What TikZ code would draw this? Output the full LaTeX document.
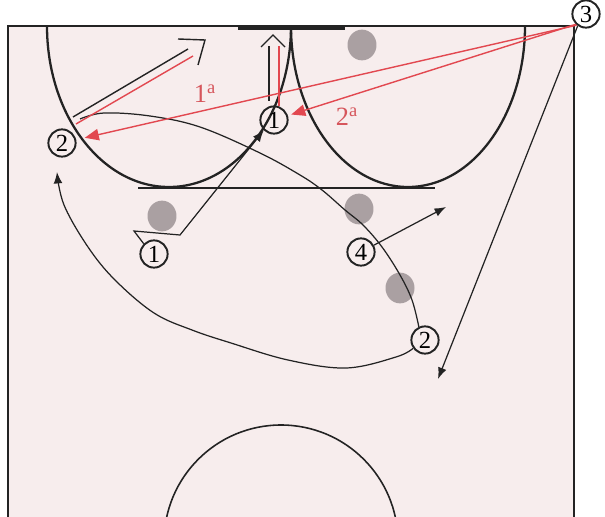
\documentclass[tikz,border=0pt]{standalone}
\usepackage{fontspec}
\setmainfont{Liberation Serif}
\usetikzlibrary{arrows.meta}
\usetikzlibrary{shapes.geometric}

\definecolor{courtbg}{RGB}{247,237,237}
\definecolor{courtline}{RGB}{35,35,35}
\definecolor{passred}{RGB}{226,72,80}
\definecolor{labelred}{RGB}{214,86,92}
\definecolor{defgrey}{RGB}{170,160,162}

\tikzset{
  player/.style={circle,draw=courtline,line width=1.1pt,minimum size=15.5pt,inner sep=0pt,font=\fontsize{14}{14}\selectfont},
  defender/.style={ellipse,fill=defgrey,minimum width=16.5pt,minimum height=17.5pt,inner sep=0pt},
  runline/.style={draw=courtline,line width=0.7pt},
  runtip/.style={-{Latex[length=6.5pt,width=5pt]}},
  passline/.style={draw=passred,line width=0.8pt,-{Triangle[length=8pt,width=6.5pt]}},
  passlabel/.style={text=labelred,font=\fontsize{15}{15}\selectfont},
  shotblack/.style={draw=courtline,line width=0.8pt},
  shotred/.style={draw=passred,line width=0.8pt},
  keyline/.style={draw=courtline,line width=1.3pt}
}

\begin{document}
\begin{tikzpicture}[x=0.02cm,y=-0.02cm]
\clip (0,0) rectangle (605,517);
\fill[white] (0,0) rectangle (605,517);
\fill[courtbg] (8,26) rectangle (574,530);
\draw[courtline,line width=1.1pt] (8,530) -- (8,26) -- (574,26) -- (574,530);
\draw[courtline,line width=2.4pt] (238,27.5) -- (345,27.5);
\draw[keyline] (47,26) arc[start angle=180,end angle=0,x radius=122,y radius=161];
\draw[keyline] (291,26) arc[start angle=180,end angle=0,x radius=117,y radius=161];
\draw[keyline] (138,188) -- (435,188);
\draw[courtline,line width=0.9pt] (281,542) circle[radius=117];

\node[defender] (d1) at (362,45) {};
\node[defender] (d2) at (162,216) {};
\node[defender] (d3) at (359,209) {};
\node[defender] (d4) at (400,288) {};

\node[player] (p1a) at (154,254) {1};
\node[player] (p1b) at (274,120) {1};
\node[player] (p2a) at (62,143) {2};
\node[player] (p2b) at (425,340) {2};
\node[player] (p3) at (586,14) {3};
\node[player] (p4) at (361,252) {4};

\coordinate (c1) at (134,231);
\coordinate (c2) at (180,235);
\draw[runline,runtip] (p1a.135) -- (c1) -- (c2) -- (p1b.225);

\coordinate (t4) at (446,207);
\draw[runline,runtip] (p4) -- (t4);

\coordinate (t3) at (438,379);
\draw[runline,runtip] (p3.235) -- (t3);

\coordinate (t2) at (57,172);
\draw[runline,runtip] plot[smooth,tension=0.6] coordinates {(p2b.215) (396,357) (346,368) (288,360) (231,343) (192,330) (154,313) (115,280) (88,247) (64,205) (t2)};

\coordinate (s2) at (80,119);
\draw[runline] plot[smooth,tension=0.6] coordinates {(s2) (104,113) (150,116) (200,127) (260,153) (300,175) (322,190) (345,210) (363,225) (382,247) (400,275) (412,300) (p2b.115)};

\draw[shotblack] (73,117) -- (188,49);
\draw[shotred] (76,124) -- (193,56);
\draw[shotblack] (178,39) -- (205,40) -- (198,65);
\draw[shotblack] (269,101) -- (269,46);
\draw[shotred] (279,106) -- (279,46);
\draw[shotblack] (261,47) -- (273,35) -- (285,47);

\draw[passline,shorten >=5pt] (p3.230) -- (p2a);
\draw[passline,shorten >=2pt] (p3.225) -- (p1b);

\node[passlabel] (l1) at (205,94) {1\textsuperscript{a}};
\node[passlabel] (l2) at (347,117) {2\textsuperscript{a}};
\end{tikzpicture}
\end{document}
